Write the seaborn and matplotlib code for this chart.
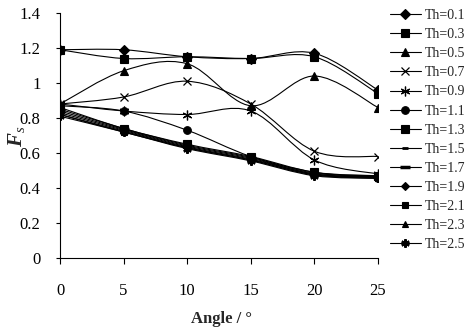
import matplotlib
matplotlib.use("Agg")
import matplotlib.pyplot as plt
from matplotlib.lines import Line2D
from matplotlib.patches import PathPatch
from matplotlib.path import Path
import seaborn as sns

ANGLES = [0, 5, 10, 15, 20, 25]

FS_TH01 = [1.19, 1.19, 1.15, 1.14, 1.17, 0.96]
FS_TH03 = [1.19, 1.14, 1.15, 1.14, 1.15, 0.94]
FS_TH05 = [0.88, 1.07, 1.11, 0.87, 1.04, 0.86]
FS_TH07 = [0.88, 0.92, 1.01, 0.88, 0.61, 0.58]
FS_TH09 = [0.88, 0.84, 0.82, 0.84, 0.56, 0.48]
FS_TH11 = [0.87, 0.84, 0.73, 0.58, 0.49, 0.46]
FS_TH13 = [0.86, 0.74, 0.65, 0.58, 0.49, 0.47]
FS_TH15 = [0.85, 0.74, 0.645, 0.575, 0.485, 0.47]
FS_TH17 = [0.84, 0.735, 0.64, 0.57, 0.48, 0.465]
FS_TH19 = [0.83, 0.73, 0.635, 0.565, 0.48, 0.46]
FS_TH21 = [0.82, 0.725, 0.63, 0.56, 0.475, 0.46]
FS_TH23 = [0.82, 0.72, 0.63, 0.56, 0.475, 0.455]
FS_TH25 = [0.81, 0.72, 0.625, 0.555, 0.47, 0.455]

TH_LABELS = ["Th=0.1", "Th=0.3", "Th=0.5", "Th=0.7", "Th=0.9", "Th=1.1", "Th=1.3",
             "Th=1.5", "Th=1.7", "Th=1.9", "Th=2.1", "Th=2.3", "Th=2.5"]
SERIES = [FS_TH01, FS_TH03, FS_TH05, FS_TH07, FS_TH09, FS_TH11, FS_TH13,
          FS_TH15, FS_TH17, FS_TH19, FS_TH21, FS_TH23, FS_TH25]

# marker, size, edge width
MARKERS = [("D", 5, 0.8), ("s", 5.5, 0.8), ("^", 6, 0.8), ("x", 6, 0.9),
           ((6, 2, 0), 7, 0.9), ("o", 5.5, 0.8), ("s", 5.5, 0.8),
           ("_", 4, 2.0), ("_", 7, 2.5), ("D", 4.5, 0.8), ("s", 4.5, 0.8),
           ("^", 5, 0.8), ((6, 2, 0), 6, 1.6)]


def smooth_path(xs, ys):
    """Bezier curve through the points, like Excel's smoothed lines."""
    pts = list(zip(xs, ys))
    n = len(pts)
    verts = [pts[0]]
    codes = [Path.MOVETO]
    for i in range(n - 1):
        p0 = pts[max(i - 1, 0)]
        p1 = pts[i]
        p2 = pts[i + 1]
        p3 = pts[min(i + 2, n - 1)]
        c1 = (p1[0] + (p2[0] - p0[0]) / 6, p1[1] + (p2[1] - p0[1]) / 6)
        c2 = (p2[0] - (p3[0] - p1[0]) / 6, p2[1] - (p3[1] - p1[1]) / 6)
        verts += [c1, c2, p2]
        codes += [Path.CURVE4] * 3
    return Path(verts, codes)


sns.set_style("ticks")
plt.rcParams["font.family"] = ["Liberation Serif", "DejaVu Serif"]
plt.rcParams["mathtext.fontset"] = "custom"
plt.rcParams["mathtext.rm"] = "Liberation Serif"
plt.rcParams["mathtext.it"] = "Liberation Serif:italic"
plt.rcParams["mathtext.bf"] = "Liberation Serif:bold"
plt.rcParams["mathtext.bfit"] = "Liberation Serif:italic:bold"

fig = plt.figure(figsize=(4.65, 3.32), dpi=100)
ax = fig.add_axes([60 / 465, 1 - 258 / 332, 318 / 465, 245 / 332])

handles = []
for label, vals, (m, ms, mew) in zip(TH_LABELS, SERIES, MARKERS):
    sns.lineplot(x=ANGLES, y=vals, ax=ax, color="k", marker=m, markersize=ms,
                 markeredgewidth=mew, markeredgecolor="k", linestyle="none",
                 legend=False, zorder=3)
    ax.add_patch(PathPatch(smooth_path(ANGLES, vals), facecolor="none",
                           edgecolor="k", lw=0.8, zorder=2))
    handles.append(Line2D([], [], color="k", lw=0.8, marker=m, markersize=ms,
                          markeredgewidth=mew, markeredgecolor="k", label=label))

ax.set_xlim(0, 25)
ax.set_ylim(0, 1.4)
ax.set_xticks(ANGLES)
ax.set_yticks([0, 0.2, 0.4, 0.6, 0.8, 1.0, 1.2, 1.4])
ax.set_yticklabels(["0", "0.2", "0.4", "0.6", "0.8", "1", "1.2", "1.4"])
ax.tick_params(axis="x", direction="out", length=4, width=0.8, pad=14,
               labelsize=12, colors="k")
ax.tick_params(axis="y", direction="out", length=3, width=0.8, pad=11,
               labelsize=12, colors="k")
for side in ["left", "bottom"]:
    ax.spines[side].set_color("k")
    ax.spines[side].set_linewidth(0.8)
sns.despine(ax=ax)
ax.set_xlabel("")
ax.set_ylabel("")

fig.text(221 / 465, 1 - 319 / 332, "Angle / °", ha="center", va="center",
         fontsize=12, fontweight="bold")
fig.text(16 / 465, 1 - 136 / 332, r"$\mathbfit{F}_\mathit{s}$", ha="center",
         va="center", rotation=90, fontsize=15)

fig.legend(handles=handles, loc="upper left", bbox_to_anchor=(390 / 465, 1 - 9 / 332),
           frameon=False, fontsize=10, labelspacing=0.44, handlelength=2.2,
           handletextpad=0.3, borderpad=0, borderaxespad=0)

fig.savefig("out.png", dpi=100)
